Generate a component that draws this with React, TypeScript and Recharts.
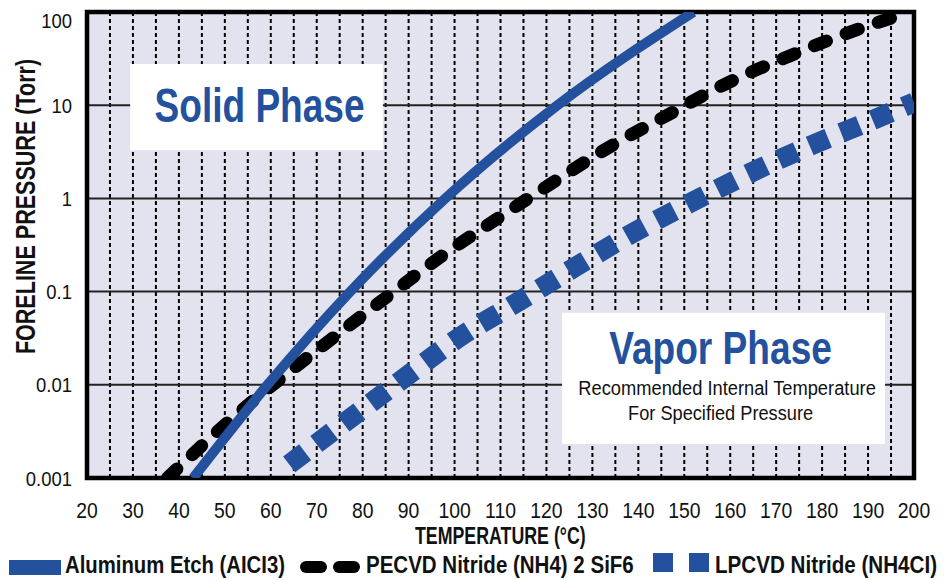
import React from 'react';
import { LineChart, Line, XAxis, YAxis, CartesianGrid, ReferenceArea } from 'recharts';

// ---- data ----
const aluminumTemps = [43.1, 59.3, 77.3, 98, 122.4, 152];
const aluminumPressures = [0.001, 0.01, 0.1, 1, 10, 100];

const pecvdTemps = [37.5, 50.5, 61.6, 73.4, 84.9, 96.9, 108.9, 121.3, 133.5, 146.6, 159.7, 172.8, 186.7, 195.6];
const pecvdPressures = [0.001, 0.0039, 0.0111, 0.0315, 0.085, 0.235, 0.588, 1.47, 3.51, 7.96, 17.6, 33.6, 62.4, 88];

const lpcvdTemps = [64, 77.1, 88.9, 101.3, 113.3, 125.9, 138.8, 151.4, 164.5, 178, 191.3, 200];
const lpcvdPressures = [0.0014, 0.0043, 0.0117, 0.033, 0.075, 0.179, 0.426, 0.9, 1.89, 3.78, 7.03, 10.7];

const xTicks = [20, 25, 30, 35, 40, 45, 50, 55, 60, 65, 70, 75, 80, 85, 90, 95, 100, 105, 110, 115, 120, 125, 130, 135, 140, 145, 150, 155, 160, 165, 170, 175, 180, 185, 190, 195, 200];
const yTicks = [0.001, 0.01, 0.1, 1, 10, 100];
const yTickLabels = ['0.001', '0.01', '0.1', '1', '10', '100'];

const seriesNames = ['Aluminum Etch (AICI3)', 'PECVD Nitride (NH4) 2 SiF6', 'LPCVD Nitride (NH4CI)'];
const xTitle = 'TEMPERATURE (°C)';
const yTitle = 'FORELINE PRESSURE (Torr)';
const solidTitle = 'Solid Phase';
const vaporTitle = 'Vapor Phase';
const vaporNote = ['Recommended Internal Temperature', 'For Specified Pressure'];

// annotation boxes (data coordinates)
const solidBox = { x1: 29.4, x2: 84.4, y1: 3.28, y2: 27.6 };
const vaporBox = { x1: 123.4, x2: 193.7, y1: 0.00232, y2: 0.0594 };

const zip = (ts: number[], ps: number[]) => ts.map((t, i) => ({ t, p: ps[i] }));
const aluminumData = zip(aluminumTemps, aluminumPressures);
const pecvdData = zip(pecvdTemps, pecvdPressures);
const lpcvdData = zip(lpcvdTemps, lpcvdPressures);

const BLUE = '#24519d';
const FONT = "'Liberation Sans', Arial, Helvetica, sans-serif";

// condensed text: horizontally scaled Liberation Sans (Helvetica Condensed look)
const CText = (props: any) => {
  const { x, y, sx = 0.88, size, bold, anchor = 'start', fill = '#111', rotate = 0, children } = props;
  return (
    <g transform={`translate(${x},${y}) rotate(${rotate}) scale(${sx},1)`}>
      <text x={0} y={0} textAnchor={anchor} fill={fill} fontSize={size} fontWeight={bold ? 'bold' : 'normal'} fontFamily={FONT}>
        {children}
      </text>
    </g>
  );
};

const XTick = (props: any) => {
  const { x, y, payload } = props;
  if (payload.value % 10 !== 0) return <g />;
  return <CText x={x} y={y + 40} size={22} sx={0.88} anchor="middle">{String(payload.value)}</CText>;
};

const YTick = (props: any) => {
  const { x, y, payload } = props;
  const idx = yTicks.indexOf(payload.value);
  const extra = payload.value === 100 ? 8 : 0;
  return <CText x={x - 15} y={y + 7.5 + extra} size={21} sx={0.88} anchor="end">{idx >= 0 ? yTickLabels[idx] : ''}</CText>;
};

const SolidLabel = (props: any) => {
  const { x, y, width } = props.viewBox;
  return <CText x={x + width / 2 + 3} y={y + 58} size={47.5} sx={0.78} bold anchor="middle" fill={BLUE}>{solidTitle}</CText>;
};

const VaporLabel = (props: any) => {
  const { x, y, width } = props.viewBox;
  const cx = x + width / 2;
  return (
    <g>
      <CText x={cx - 3} y={y + 51} size={46} sx={0.807} bold anchor="middle" fill={BLUE}>{vaporTitle}</CText>
      <CText x={cx + 3.5} y={y + 82} size={20} sx={0.915} anchor="middle">{vaporNote[0]}</CText>
      <CText x={cx - 3} y={y + 107} size={20} sx={0.91} anchor="middle">{vaporNote[1]}</CText>
    </g>
  );
};

export default function App() {
  return (
    <div style={{ position: 'absolute', left: 0, top: 0, width: 951, height: 580, background: '#fff' }}>
      <LineChart width={951} height={580} margin={{ top: 12, right: 37, bottom: 62, left: 7 }}>
        <CartesianGrid horizontal={false} stroke="#000" strokeWidth={2} strokeDasharray="4 3" fill="#e3e2ef" fillOpacity={1} />
        <CartesianGrid vertical={false} stroke="#222" strokeWidth={2} />
        <XAxis dataKey="t" type="number" domain={[20, 200]} ticks={xTicks} allowDataOverflow
          axisLine={false} tickLine={false} tickSize={0} tickMargin={0} height={40} tick={<XTick />} interval={0} />
        <YAxis type="number" scale="log" domain={[0.001, 100]} ticks={yTicks} allowDataOverflow
          axisLine={false} tickLine={false} tickSize={0} tickMargin={0} width={80} tick={<YTick />} interval={0} />
        <ReferenceArea {...solidBox} fill="#fff" fillOpacity={1} stroke="none" label={<SolidLabel />} />
        <ReferenceArea {...vaporBox} fill="#fff" fillOpacity={1} stroke="none" label={<VaporLabel />} />
        <Line data={lpcvdData} dataKey="p" type="monotone" stroke={BLUE} strokeWidth={20}
          strokeDasharray="20 14" strokeLinecap="butt" dot={false} activeDot={false} isAnimationActive={false} />
        <Line data={pecvdData} dataKey="p" type="monotone" stroke="#000" strokeWidth={13}
          strokeDasharray="13 21" strokeLinecap="round" dot={false} activeDot={false} isAnimationActive={false} />
        <Line data={aluminumData} dataKey="p" type="monotone" stroke={BLUE} strokeWidth={10}
          dot={false} activeDot={false} isAnimationActive={false} />
        <ReferenceArea x1={20} x2={200} y1={0.001} y2={100} fill="none" stroke="#000" strokeWidth={4.5} />
      </LineChart>
      <svg width={951} height={580} style={{ position: 'absolute', left: 0, top: 0, pointerEvents: 'none' }}>
        <CText x={35} y={206.5} rotate={-90} size={28} sx={0.77} bold anchor="middle">{yTitle}</CText>
        <CText x={415} y={544} size={23.3} sx={0.763} bold>{xTitle}</CText>
        <rect x={9} y={560} width={52} height={15} fill={BLUE} />
        <CText x={65} y={573} size={23} sx={0.883} bold>{seriesNames[0]}</CText>
        <line x1={306} y1={567} x2={321} y2={567} stroke="#000" strokeWidth={12} strokeLinecap="round" />
        <line x1={339} y1={567} x2={354} y2={567} stroke="#000" strokeWidth={12} strokeLinecap="round" />
        <CText x={366} y={573} size={23} sx={0.892} bold>{seriesNames[1]}</CText>
        <rect x={653} y={553} width={20} height={19} fill={BLUE} />
        <rect x={689} y={553} width={20} height={19} fill={BLUE} />
        <CText x={715} y={573} size={23} sx={0.896} bold>{seriesNames[2]}</CText>
      </svg>
    </div>
  );
}
